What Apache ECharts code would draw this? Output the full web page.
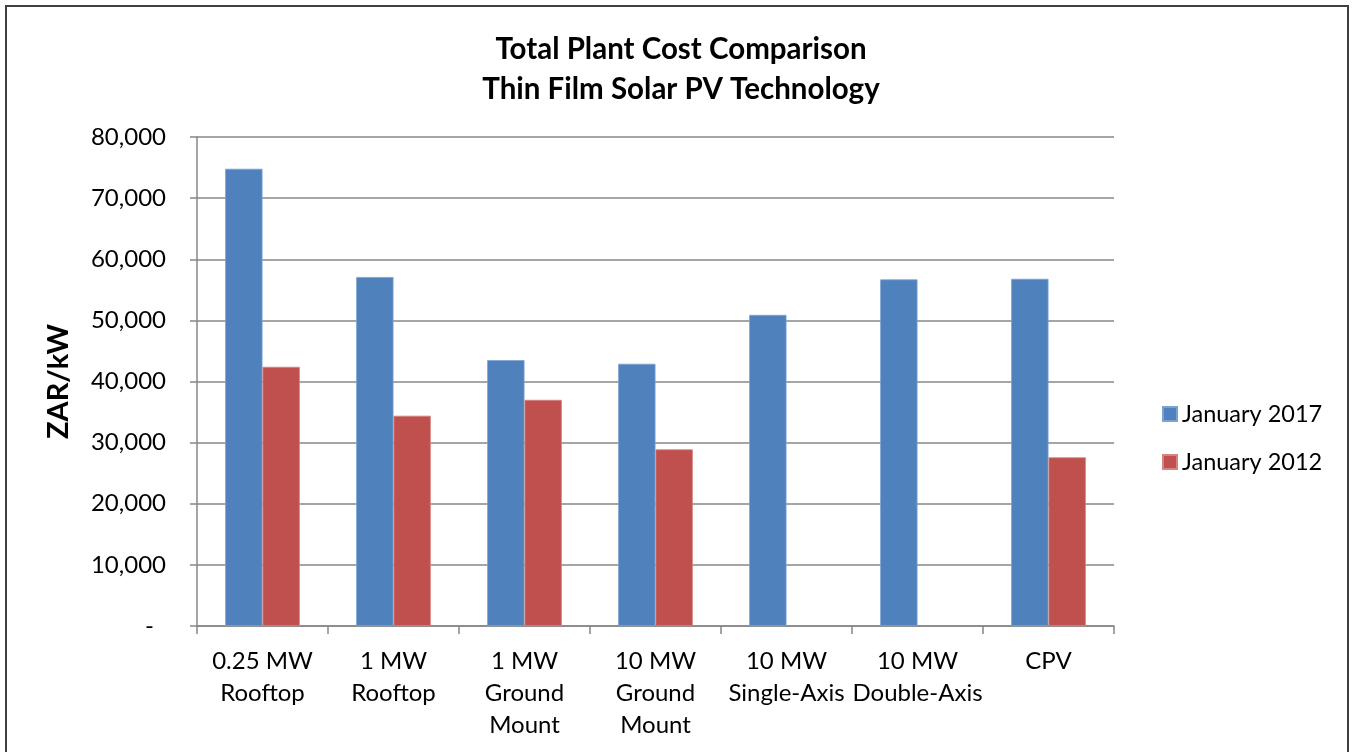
<!DOCTYPE html>
<html>
<head>
<meta charset="utf-8">
<script src="https://cdn.jsdelivr.net/npm/echarts@6/dist/echarts.min.js"></script>
<style>
  html, body { margin: 0; padding: 0; background: #fff; }
  #chart { width: 1353px; height: 752px; }
</style>
</head>
<body>
<div id="chart"></div>
<script>
// Plant categories (two/three-line labels)
const categories = [
  '0.25 MW\nRooftop',
  '1 MW\nRooftop',
  '1 MW\nGround\nMount',
  '10 MW\nGround\nMount',
  '10 MW\nSingle-Axis',
  '10 MW\nDouble-Axis',
  'CPV'
];

// Total plant cost, ZAR/kW
const jan2017 = [74800, 57100, 43500, 42900, 50900, 56700, 56800];
const jan2012 = [42400, 34400, 37000, 28900, null, null, 27600];

const seriesNames = ['January 2017', 'January 2012'];
const yTicks = { min: 0, max: 80000, interval: 10000 };

const FONT = 'Lato';
const GRID_COLOR = '#878787';

const chart = echarts.init(document.getElementById('chart'), null, { renderer: 'canvas' });

chart.setOption({
  backgroundColor: '#ffffff',
  animation: false,
  textStyle: { fontFamily: FONT, color: '#000' },
  title: {
    text: 'Total Plant Cost Comparison\nThin Film Solar PV Technology',
    left: 676,
    top: 24,
    textAlign: 'center',
    textStyle: {
      fontFamily: FONT,
      fontWeight: 'bold',
      fontSize: 29.5,
      lineHeight: 40,
      color: '#000'
    }
  },
  legend: {
    orient: 'vertical',
    left: 1157,
    top: 394,
    itemWidth: 14,
    itemHeight: 14,
    itemGap: 18,
    icon: 'rect',
    data: seriesNames,
    textStyle: { fontFamily: FONT, fontSize: 23.5, lineHeight: 30, color: '#000' }
  },
  grid: { left: 197, right: 239, top: 137, bottom: 126, containLabel: false },
  xAxis: {
    type: 'category',
    data: categories,
    axisLine: { lineStyle: { color: GRID_COLOR, width: 1.5 } },
    axisTick: { show: true, length: 8, lineStyle: { color: GRID_COLOR, width: 1.5 } },
    axisLabel: {
      interval: 0,
      margin: 19,
      fontFamily: FONT,
      fontSize: 24,
      lineHeight: 32,
      color: '#000',
      verticalAlign: 'top'
    }
  },
  yAxis: {
    type: 'value',
    min: yTicks.min,
    max: yTicks.max,
    interval: yTicks.interval,
    name: 'ZAR/kW',
    nameLocation: 'middle',
    nameGap: 124,
    nameRotate: 90,
    nameTextStyle: { fontFamily: FONT, fontWeight: 'bold', fontSize: 29, color: '#000' },
    axisLine: { show: true, lineStyle: { color: GRID_COLOR, width: 1.5 } },
    axisTick: { show: true, length: 7, lineStyle: { color: GRID_COLOR, width: 1.5 } },
    splitLine: { show: true, lineStyle: { color: GRID_COLOR, width: 1.5 } },
    axisLabel: {
      margin: 31,
      fontFamily: FONT,
      fontSize: 24,
      color: '#000',
      formatter: function (v) {
        return v === 0 ? '{z|-}' : v.toLocaleString('en-US');
      },
      rich: { z: { fontFamily: FONT, fontSize: 24, color: '#000', padding: [0, 12, 0, 0] } }
    }
  },
  series: [
    {
      name: seriesNames[0],
      type: 'bar',
      data: jan2017,
      barGap: '0%',
      barCategoryGap: '43%',
      itemStyle: { color: '#4F81BD', borderColor: '#7DA2D2', borderWidth: 0.8 }
    },
    {
      name: seriesNames[1],
      type: 'bar',
      data: jan2012,
      itemStyle: { color: '#C0504D', borderColor: '#D48482', borderWidth: 0.8 }
    }
  ],
  graphic: [
    {
      type: 'rect',
      shape: { x: 6, y: 6, width: 1342, height: 800 },
      style: { fill: 'none', stroke: '#404040', lineWidth: 2 },
      silent: true
    }
  ]
});
</script>
</body>
</html>
